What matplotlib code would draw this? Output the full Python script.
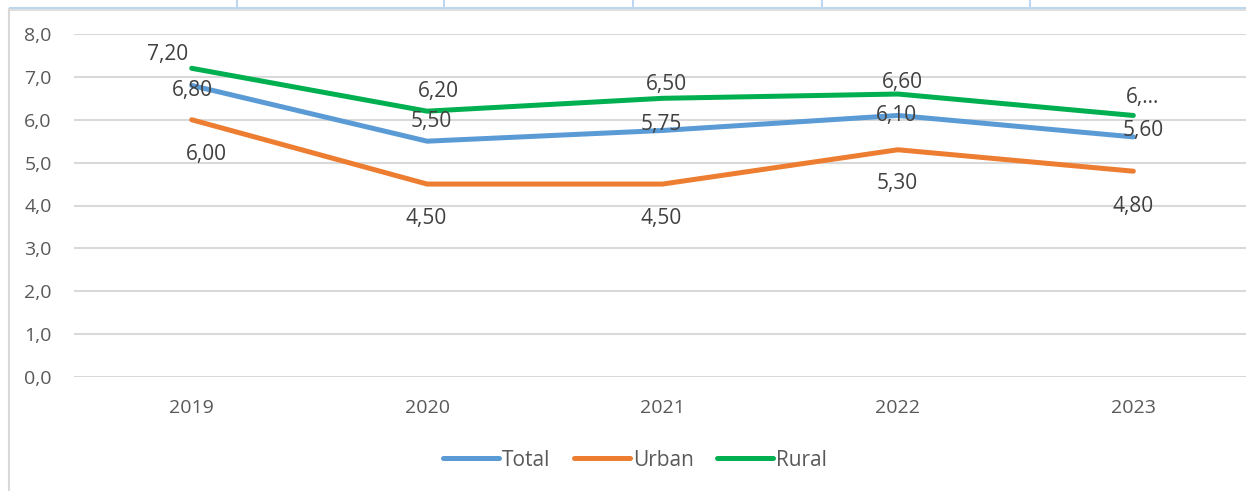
import matplotlib.pyplot as plt
from matplotlib.lines import Line2D

years = ["2019", "2020", "2021", "2022", "2023"]
total = [6.80, 5.50, 5.75, 6.10, 5.60]
urban = [6.00, 4.50, 4.50, 5.30, 4.80]
rural = [7.20, 6.20, 6.50, 6.60, 6.10]
total_labels = ["6,80", "5,50", "5,75", "6,10", "5,60"]
urban_labels = ["6,00", "4,50", "4,50", "5,30", "4,80"]
rural_labels = ["7,20", "6,20", "6,50", "6,60", "6,…"]
yticks = [0, 1, 2, 3, 4, 5, 6, 7, 8]

# label offsets in pixels (dx, dy), as placed in the original
total_off = [(1, -5), (4, 20), (-1, 6), (-1, 0), (10, 6)]
urban_off = [(15, -35), (-1, -34), (-1, -34), (-1, -34), (0, -35)]
rural_off = [(-24, 14), (11, 20), (4, 14), (4, 12), (9, 18)]

plt.rcParams['font.family'] = ['Open Sans', 'DejaVu Sans']

fig = plt.figure(figsize=(12.46, 4.91), dpi=100)
W, H = 1246, 491

# bits of the surrounding table / chart frame from the screenshot
fig.add_artist(Line2D([10 / W, 1], [1 - 8 / H] * 2, color="#BDD7EE", lw=1.5))
fig.add_artist(Line2D([10 / W, 1], [1 - 10 / H] * 2, color="#D9D9D9", lw=1.2))
fig.add_artist(Line2D([9 / W] * 2, [0, 1 - 9 / H], color="#D9D9D9", lw=1.5))
for xp in [237, 444, 633, 822, 1030]:
    fig.add_artist(Line2D([xp / W] * 2, [1 - 7 / H, 1], color="#BDD7EE", lw=1.5))

ax = fig.add_axes([74 / W, (H - 377) / H, 1177 / W, 343 / H])
x = list(range(len(years)))

series = [
    ("Total", total, total_labels, total_off, "#5B9BD5"),
    ("Urban", urban, urban_labels, urban_off, "#ED7D31"),
    ("Rural", rural, rural_labels, rural_off, "#00B050"),
]
for name, vals, labs, offs, col in series:
    ax.plot(x, vals, color=col, lw=3.6, solid_capstyle="round",
            solid_joinstyle="round", label=name, zorder=3)
for name, vals, labs, offs, col in series:
    for xi, v, lab, (dx, dy) in zip(x, vals, labs, offs):
        ax.annotate(lab, (xi, v), xytext=(dx, dy), textcoords="offset pixels",
                    ha="center", va="center", fontsize=15, color="#404040",
                    zorder=4)

ax.set_xlim(-0.5, 4.5)
ax.set_ylim(0, 8)
ax.set_yticks(yticks)
ax.set_yticklabels([f"{t:.1f}".replace(".", ",") for t in yticks])
ax.set_xticks(x)
ax.set_xticklabels(years)
ax.tick_params(axis="both", length=0, labelsize=14, labelcolor="#595959")
ax.tick_params(axis="y", pad=16)
ax.tick_params(axis="x", pad=16)
ax.yaxis.grid(True, color="#D9D9D9", lw=1.5)
ax.set_axisbelow(True)
for s in ax.spines.values():
    s.set_visible(False)

fig.legend(loc="center", bbox_to_anchor=(635 / W, 1 - 460 / H), ncol=3,
           frameon=False, fontsize=15, labelcolor="#595959",
           handlelength=2.7, handletextpad=0.15, columnspacing=1.1)

fig.savefig("out.png", dpi=100)
